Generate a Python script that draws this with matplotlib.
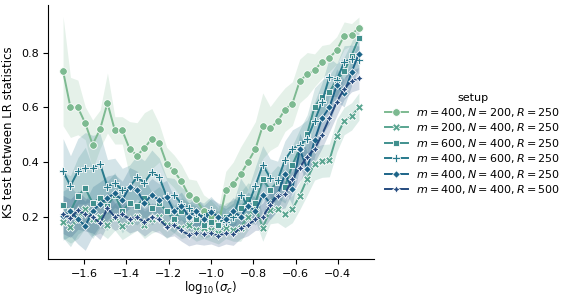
from matplotlib import pyplot as plt
import seaborn as sns
import numpy as np

# log10(sigma_c) grid
log_sigma = [-1.7, -1.665, -1.63, -1.595, -1.56, -1.525, -1.49, -1.455, -1.42, -1.385,
             -1.35, -1.315, -1.28, -1.245, -1.21, -1.175, -1.14, -1.105, -1.07, -1.035,
             -1.0, -0.965, -0.93, -0.895, -0.86, -0.825, -0.79, -0.755, -0.72, -0.685,
             -0.65, -0.615, -0.58, -0.545, -0.51, -0.475, -0.44, -0.405, -0.37, -0.335, -0.3]

setups = ["$m = 400, N = 200, R = 250$",
          "$m = 200, N = 400, R = 250$",
          "$m = 600, N = 400, R = 250$",
          "$m = 400, N = 600, R = 250$",
          "$m = 400, N = 400, R = 250$",
          "$m = 400, N = 400, R = 500$"]

ks_m400_n200 = [0.733, 0.600, 0.600, 0.542, 0.464, 0.520, 0.616, 0.516, 0.516, 0.448,
                0.424, 0.451, 0.486, 0.470, 0.394, 0.366, 0.330, 0.278, 0.263, 0.220,
                0.200, 0.170, 0.296, 0.320, 0.355, 0.400, 0.448, 0.533, 0.523, 0.549,
                0.592, 0.614, 0.697, 0.721, 0.736, 0.767, 0.782, 0.809, 0.863, 0.867, 0.891]
ci_m400_n200 = [0.20, 0.11, 0.10, 0.06, 0.09, 0.07, 0.11, 0.05, 0.05, 0.10,
                0.12, 0.13, 0.11, 0.07, 0.06, 0.06, 0.06, 0.06, 0.07, 0.06,
                0.06, 0.06, 0.07, 0.08, 0.10, 0.10, 0.10, 0.12, 0.08, 0.09,
                0.08, 0.08, 0.08, 0.08, 0.06, 0.06, 0.05, 0.05, 0.05, 0.04, 0.04]

ks_m200 = [0.182, 0.163, 0.190, 0.228, 0.190, 0.200, 0.170, 0.200, 0.166, 0.183,
           0.200, 0.170, 0.190, 0.200, 0.170, 0.180, 0.160, 0.170, 0.150, 0.160,
           0.150, 0.140, 0.160, 0.150, 0.160, 0.200, 0.236, 0.160, 0.224, 0.228,
           0.210, 0.228, 0.276, 0.339, 0.394, 0.404, 0.406, 0.497, 0.550, 0.567, 0.603]
ci_m200 = [0.06, 0.06, 0.07, 0.07, 0.06, 0.06, 0.05, 0.05, 0.05, 0.05,
           0.05, 0.05, 0.05, 0.05, 0.05, 0.04, 0.04, 0.04, 0.04, 0.04,
           0.04, 0.04, 0.04, 0.04, 0.05, 0.05, 0.05, 0.05, 0.05, 0.05,
           0.05, 0.05, 0.05, 0.06, 0.06, 0.06, 0.06, 0.06, 0.05, 0.05, 0.05]

ks_m600 = [0.242, 0.220, 0.276, 0.304, 0.250, 0.270, 0.240, 0.281, 0.220, 0.250,
           0.240, 0.270, 0.230, 0.250, 0.220, 0.191, 0.220, 0.200, 0.190, 0.170,
           0.180, 0.170, 0.200, 0.210, 0.230, 0.264, 0.250, 0.337, 0.297, 0.327,
           0.310, 0.390, 0.450, 0.503, 0.602, 0.640, 0.657, 0.700, 0.733, 0.790, 0.855]
ci_m600 = [0.12, 0.13, 0.14, 0.15, 0.13, 0.11, 0.09, 0.08, 0.08, 0.07,
           0.07, 0.07, 0.06, 0.06, 0.06, 0.05, 0.05, 0.05, 0.05, 0.05,
           0.05, 0.05, 0.05, 0.05, 0.06, 0.06, 0.06, 0.07, 0.06, 0.06,
           0.06, 0.07, 0.07, 0.07, 0.07, 0.06, 0.06, 0.06, 0.05, 0.05, 0.05]

ks_n600 = [0.366, 0.313, 0.366, 0.378, 0.378, 0.394, 0.309, 0.324, 0.297, 0.309,
           0.345, 0.325, 0.364, 0.345, 0.274, 0.280, 0.248, 0.230, 0.212, 0.200,
           0.224, 0.194, 0.180, 0.200, 0.281, 0.240, 0.313, 0.390, 0.342, 0.333,
           0.408, 0.448, 0.463, 0.485, 0.550, 0.620, 0.711, 0.700, 0.766, 0.778, 0.775]
ci_n600 = [0.12, 0.11, 0.12, 0.13, 0.12, 0.11, 0.10, 0.09, 0.08, 0.08,
           0.08, 0.08, 0.08, 0.07, 0.07, 0.06, 0.06, 0.06, 0.05, 0.05,
           0.05, 0.05, 0.05, 0.05, 0.06, 0.06, 0.07, 0.07, 0.07, 0.07,
           0.07, 0.07, 0.07, 0.07, 0.07, 0.07, 0.07, 0.06, 0.06, 0.05, 0.05]

ks_r250 = [0.204, 0.220, 0.190, 0.167, 0.220, 0.248, 0.269, 0.285, 0.260, 0.310,
           0.297, 0.250, 0.280, 0.260, 0.273, 0.220, 0.240, 0.200, 0.220, 0.190,
           0.216, 0.200, 0.190, 0.220, 0.200, 0.240, 0.220, 0.281, 0.250, 0.281,
           0.356, 0.303, 0.446, 0.376, 0.480, 0.560, 0.600, 0.681, 0.652, 0.729, 0.797]
ci_r250 = [0.09, 0.09, 0.09, 0.09, 0.09, 0.08, 0.08, 0.07, 0.07, 0.07,
           0.07, 0.06, 0.06, 0.06, 0.06, 0.05, 0.05, 0.05, 0.05, 0.05,
           0.05, 0.05, 0.05, 0.05, 0.05, 0.05, 0.05, 0.06, 0.06, 0.06,
           0.06, 0.06, 0.06, 0.06, 0.06, 0.06, 0.06, 0.06, 0.05, 0.05, 0.05]

ks_r500 = [0.208, 0.194, 0.224, 0.208, 0.200, 0.176, 0.230, 0.200, 0.210, 0.190,
           0.200, 0.179, 0.200, 0.190, 0.164, 0.170, 0.150, 0.133, 0.140, 0.136,
           0.140, 0.130, 0.140, 0.135, 0.160, 0.170, 0.190, 0.200, 0.242, 0.276,
           0.282, 0.339, 0.380, 0.420, 0.448, 0.500, 0.560, 0.620, 0.669, 0.697, 0.706]
ci_r500 = [0.07, 0.07, 0.07, 0.06, 0.06, 0.06, 0.06, 0.05, 0.05, 0.05,
           0.05, 0.05, 0.05, 0.05, 0.04, 0.04, 0.04, 0.04, 0.04, 0.04,
           0.04, 0.04, 0.04, 0.04, 0.04, 0.04, 0.04, 0.05, 0.05, 0.05,
           0.05, 0.05, 0.05, 0.05, 0.05, 0.05, 0.05, 0.05, 0.04, 0.04, 0.04]

means = [ks_m400_n200, ks_m200, ks_m600, ks_n600, ks_r250, ks_r500]
cis = [ci_m400_n200, ci_m200, ci_m600, ci_n600, ci_r250, ci_r500]
markers = ["o", "X", (4, 0, 45), "P", (4, 0, 0), (4, 1, 0)]
colors = sns.color_palette("crest", len(setups))

plt.rcParams['font.family'] = ['DejaVu Sans']
plt.rcParams['font.size'] = 8

fig = plt.figure(figsize=(5.68, 2.95), dpi=100)
ax = fig.add_axes([0.085, 0.122, 0.573, 0.861])
x = np.array(log_sigma)
for idx, label in enumerate(setups):
    m = np.array(means[idx])
    e = np.array(cis[idx])
    ax.fill_between(x, m - e, m + e, color=colors[idx], alpha=0.2, linewidth=0)
    ax.plot(x, m, color=colors[idx], linestyle='-', lw=1.4, marker=markers[idx],
            ms=5.5, mec='w', mew=0.6, label=label)

ax.set_xlim(-1.77, -0.23)
ax.set_ylim(0.045, 0.975)
ax.set_xticks([-1.6, -1.4, -1.2, -1.0, -0.8, -0.6, -0.4])
ax.set_yticks([0.2, 0.4, 0.6, 0.8])
ax.tick_params(labelsize=8)
ax.set_xlabel(r"$\log_{10}(\sigma_c)$", fontsize=8.5, labelpad=0)
ax.set_ylabel("KS test between LR statistics", fontsize=8.5)
ax.spines['top'].set_visible(False)
ax.spines['right'].set_visible(False)
ax.legend(title="setup", loc='center left', bbox_to_anchor=(1.005, 0.45), frameon=False,
          fontsize=8, title_fontsize=8, handlelength=2.0, labelspacing=0.22)
fig.savefig("out.png", dpi=100)
